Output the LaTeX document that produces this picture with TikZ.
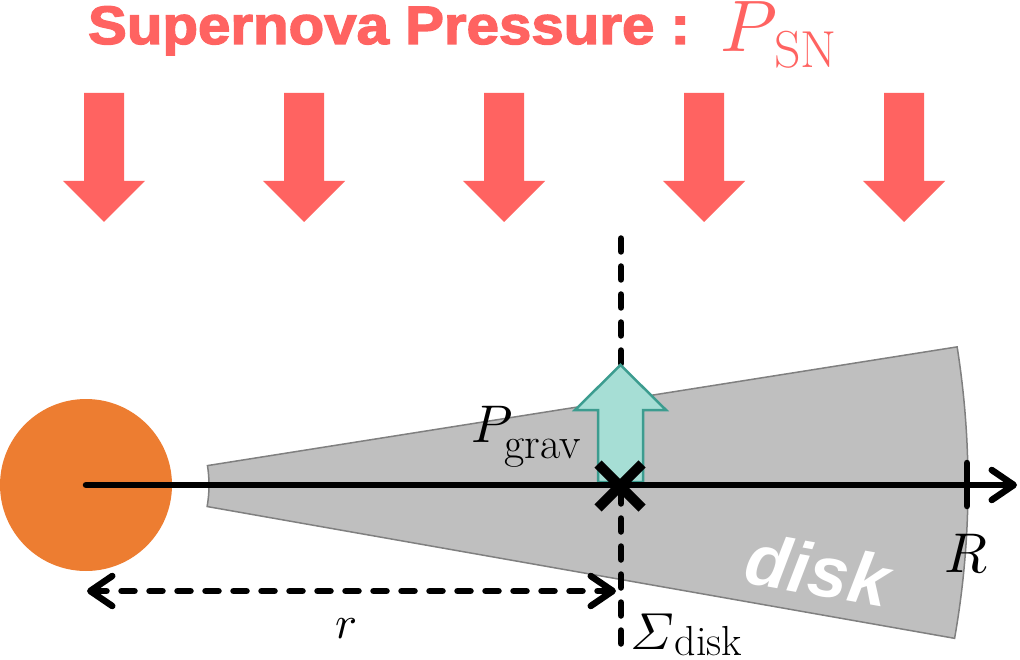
\documentclass[tikz,border=0pt]{standalone}
\usepackage{amsmath}
\usepackage{fontspec}
\usetikzlibrary{arrows.meta,calc}
\newfontfamily\heavyfont{Liberation Sans}[BoldFeatures={FakeBold=2.4}]
\newfontfamily\disklabelfont{Liberation Sans}
\definecolor{snred}{RGB}{255,99,97}
\definecolor{sunorange}{RGB}{237,125,49}
\definecolor{diskgray}{RGB}{191,191,191}
\definecolor{diskedge}{RGB}{128,128,128}
\definecolor{gravfill}{RGB}{166,222,213}
\definecolor{gravedge}{RGB}{60,156,143}
\tikzset{
  snarrow/.style={fill=snred},
  diskshape/.style={fill=diskgray,draw=diskedge,line width=1.5pt},
  thickdash/.style={line width=6.5pt,line cap=round,dash pattern=on 13pt off 15pt},
  axisline/.style={line width=6.5pt,line cap=round},
  gravarrow/.style={fill=gravfill,draw=gravedge,line width=2.5pt,line join=miter},
  crossline/.style={line width=10pt},
  lbl/.style={inner sep=0pt,outer sep=0pt}
}
\begin{document}
\begin{tikzpicture}[x=1pt,y=-1pt]
\useasboundingbox (0,0) rectangle (1020,660);
% title
\node[lbl,anchor=base west,text=snred] (title) at (88,44)
  {\scalebox{1.12}[1.04]{\heavyfont\bfseries\fontsize{52}{52}\selectfont Supernova Pressure :}};
\node[lbl,anchor=base west,text=snred] (psn) at (720,52)
  {\scalebox{7.3}{$P$}\kern-3pt\raisebox{-16pt}{\fontsize{52}{52}\selectfont SN}};
% supernova arrows
\foreach \c in {104,304,504,704,904}{
  \fill[snarrow] (\c-20,93) -- (\c+20,93) -- (\c+20,181) -- (\c+41,181) -- (\c,222)
    -- (\c-41,181) -- (\c-20,181) -- cycle;
}
% central star
\node[circle,fill=sunorange,minimum size=172pt,inner sep=0pt] (sun) at (86,485) {};
\coordinate (c) at (85,485);
% disk
\draw[diskshape] ($(c)+(-9:124)$) -- ($(c)+(-9:883)$) arc[start angle=-9,end angle=10,radius=883]
  -- ($(c)+(10:124)$) arc[start angle=10,end angle=-9,radius=124] -- cycle;
\node[lbl,rotate=-10,text=white] (disklbl) at (818,570)
  {\disklabelfont\bfseries\itshape\fontsize{72}{72}\selectfont disk};
% vertical dashed line
\coordinate (vtop) at (621,238.5);
\coordinate (vbot) at (621,652);
\draw[thickdash] (vtop) -- (vbot);
% gravity arrow
\coordinate (x0) at (620,486);
\draw[gravarrow] (598,482) -- (598,410) -- (575,410) -- (620.5,365) -- (666,410) -- (643,410) -- (643,482) -- cycle;
% axis
\coordinate (axend) at (1017,485);
\draw[axisline,-{Straight Barb[length=22pt,width=30pt,line width=6.5pt,round]}] (sun.center) -- (axend);
\coordinate (tickt) at (967,463);
\coordinate (tickb) at (967,506);
\draw[axisline] (tickt) -- (tickb);
% cross
\draw[crossline] ($(x0)+(-22,-22)$) -- ($(x0)+(22,22)$);
\draw[crossline] ($(x0)+(-22,22)$) -- ($(x0)+(22,-22)$);
% r arrow
\coordinate (rl) at (87,591);
\coordinate (rr) at (616,591);
\draw[thickdash,{Straight Barb[length=22pt,width=30pt,line width=6.5pt,round]}-{Straight Barb[length=22pt,width=30pt,line width=6.5pt,round]}] (rl) -- (rr);
% labels
\node[lbl,anchor=base west] (pgrav) at (471,442)
  {\scalebox{5.3}{$P$}\kern-8pt\raisebox{-16pt}{\fontsize{44}{44}\selectfont grav}};
\node[lbl,anchor=base west] (sigma) at (630,649)
  {\scalebox{5.2}{$\varSigma$}\kern1pt\raisebox{-6pt}{\fontsize{42}{42}\selectfont disk}};
\node[lbl,anchor=base west] (Rlbl) at (944,572) {\scalebox{5.6}{$R$}};
\node[lbl,anchor=base west] (rlbl) at (335,638) {\scalebox{4.6}{$r$}};
\end{tikzpicture}
\end{document}
